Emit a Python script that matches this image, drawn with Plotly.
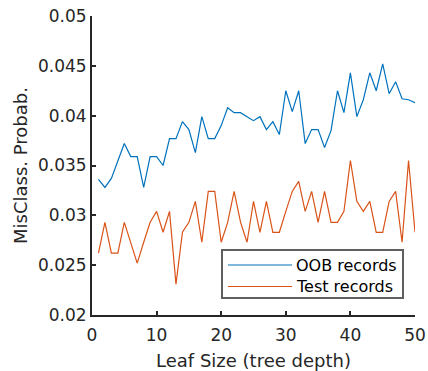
import plotly.graph_objects as go

leaf_size = list(range(1, 51))
oob_err = [0.0336, 0.0328, 0.0337, 0.0354, 0.0372, 0.0359, 0.0359, 0.0328, 0.0359, 0.0359,
           0.0350, 0.0377, 0.0377, 0.0394, 0.0386, 0.0363, 0.0399, 0.0377, 0.0377, 0.0390,
           0.0408, 0.0403, 0.0403, 0.0399, 0.0395, 0.0399, 0.0386, 0.0394, 0.0381, 0.0425,
           0.0404, 0.0425, 0.0372, 0.0386, 0.0386, 0.0368, 0.0385, 0.0425, 0.0403, 0.0443,
           0.0399, 0.0416, 0.0443, 0.0425, 0.0452, 0.0422, 0.0434, 0.0417, 0.0416, 0.0413]
test_err = [0.0262, 0.0293, 0.0262, 0.0262, 0.0293, 0.0273, 0.0252, 0.0273, 0.0293, 0.0304,
            0.0283, 0.0304, 0.0231, 0.0283, 0.0293, 0.0314, 0.0273, 0.0324, 0.0324, 0.0273,
            0.0293, 0.0324, 0.0293, 0.0273, 0.0314, 0.0283, 0.0314, 0.0283, 0.0283, 0.0304,
            0.0324, 0.0334, 0.0304, 0.0324, 0.0293, 0.0324, 0.0293, 0.0293, 0.0304, 0.0355,
            0.0314, 0.0304, 0.0314, 0.0283, 0.0283, 0.0314, 0.0324, 0.0273, 0.0355, 0.0283]
series_names = ["OOB records", "Test records"]
x_ticks = [0, 10, 20, 30, 40, 50]
y_ticks = [0.02, 0.025, 0.03, 0.035, 0.04, 0.045, 0.05]
y_tick_labels = ["0.02", "0.025", "0.03", "0.035", "0.04", "0.045", "0.05"]

BLUE = "#0072BD"
RED = "#D95319"
INK = "#262626"
FONT = "DejaVu Sans"

fig = go.Figure()
fig.add_trace(go.Scatter(x=leaf_size, y=oob_err, mode="lines", name=series_names[0],
                         line=dict(color=BLUE, width=1.2), showlegend=False))
fig.add_trace(go.Scatter(x=leaf_size, y=test_err, mode="lines", name=series_names[1],
                         line=dict(color=RED, width=1.2), showlegend=False))

# plot area: x 92..415 px, y 16..315 px
def px_x(p):
    return (p - 92) / 323.0

def px_y(p):
    return (315 - p) / 299.0

# manual legend box (MATLAB style, long line samples)
fig.add_shape(type="rect", xref="paper", yref="paper", x0=px_x(222), x1=px_x(403),
              y0=px_y(298), y1=px_y(250),
              line=dict(color="#5f5f5f", width=2), fillcolor="white", layer="above")
for i, (name, col) in enumerate(zip(series_names, [BLUE, RED])):
    yy = px_y(265 + i * 21.5)
    fig.add_shape(type="line", xref="paper", yref="paper", x0=px_x(228), x1=px_x(292),
                  y0=yy, y1=yy, line=dict(color=col, width=1.2), layer="above")
    fig.add_annotation(xref="paper", yref="paper", x=px_x(294), y=yy, text=name, showarrow=False,
                       xanchor="left", yanchor="middle",
                       font=dict(family=FONT, size=16, color="black"))

fig.update_layout(
    width=428, height=371,
    margin=dict(l=92, r=13, t=16, b=56, autoexpand=False),
    paper_bgcolor="white", plot_bgcolor="white",
    font=dict(family=FONT, size=17, color=INK),
    xaxis=dict(range=[0, 50], tickvals=x_ticks, ticks="inside", ticklen=4, tickwidth=1.5,
               tickcolor=INK, showline=True, linecolor=INK, linewidth=2, mirror=False,
               showgrid=False, zeroline=False, automargin=False, ticklabelstandoff=4,
               tickfont=dict(size=17, color=INK),
               title=dict(text="Leaf Size (tree depth)", font=dict(size=18, color=INK), standoff=12)),
    yaxis=dict(range=[0.02, 0.05], tickvals=y_ticks, ticktext=y_tick_labels, ticks="inside",
               ticklen=4, tickwidth=1.5, tickcolor=INK, showline=True, linecolor=INK, linewidth=2,
               mirror=False, showgrid=False, zeroline=False, automargin=False,
               tickfont=dict(size=17, color=INK),
               title=dict(text="MisClass. Probab.", font=dict(size=18, color=INK), standoff=6)),
)

fig.write_html("out.html", config={"displayModeBar": False},
               post_script="document.body.style.margin='0';")
